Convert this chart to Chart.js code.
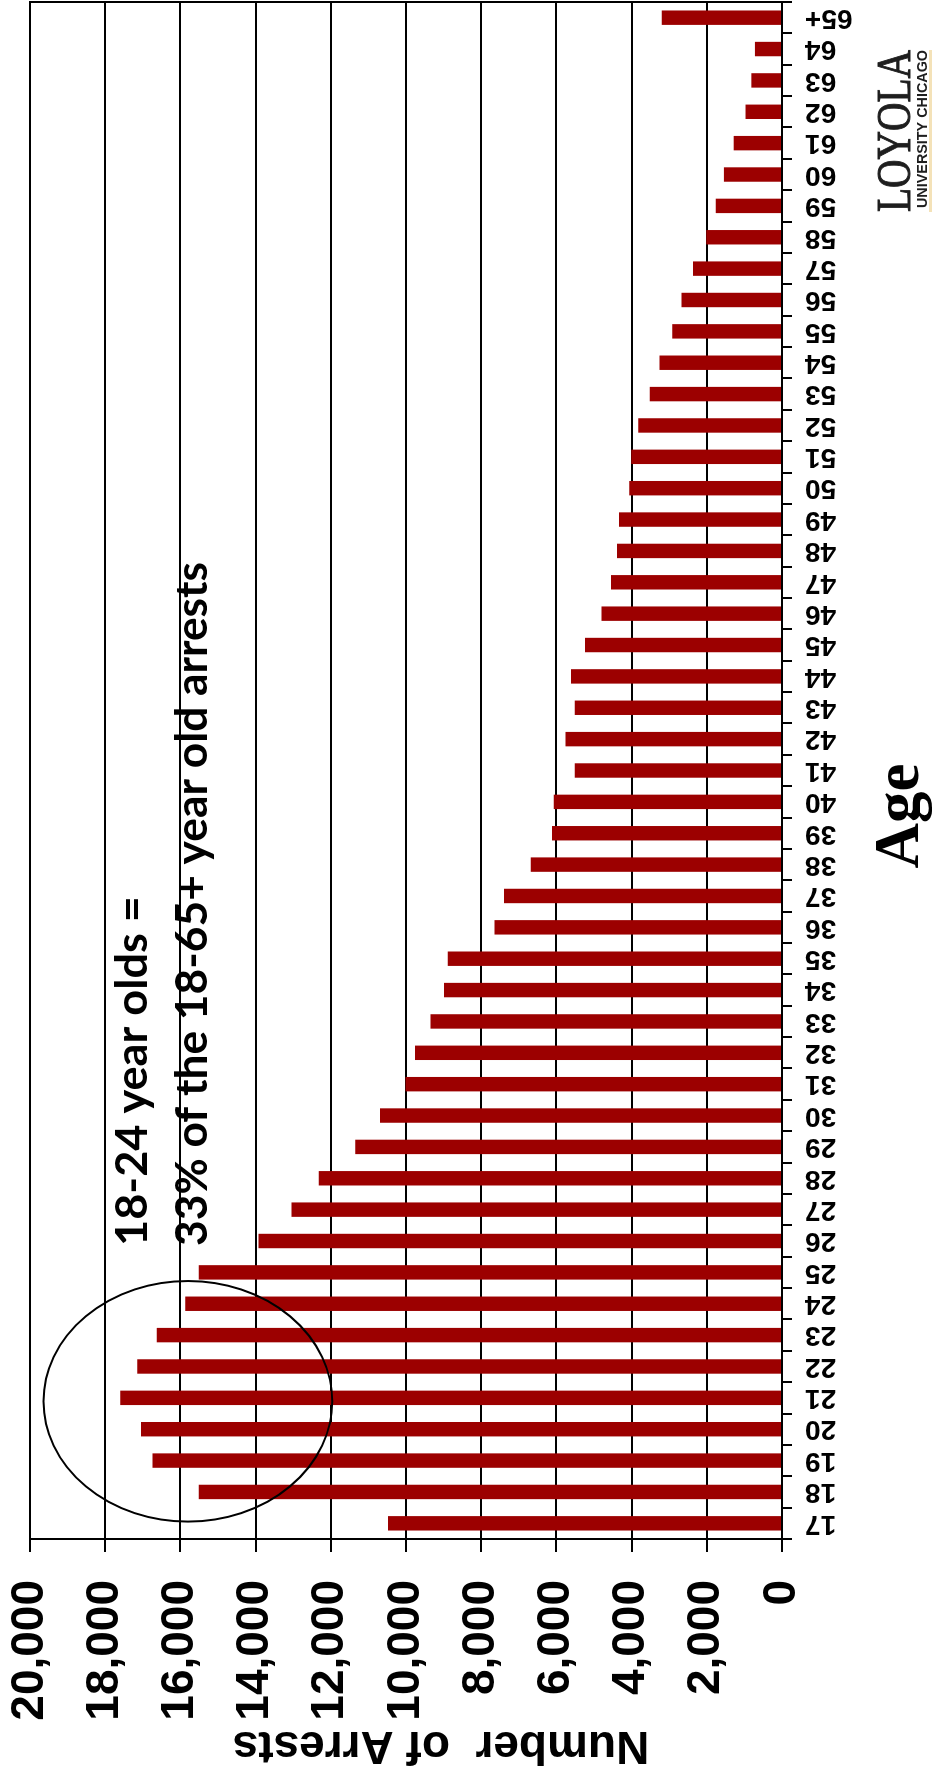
<!DOCTYPE html>
<html>
<head>
<meta charset="utf-8">
<script src="https://cdn.jsdelivr.net/npm/chart.js@4.4.1/dist/chart.umd.min.js"></script>
<style>
  html, body { margin: 0; padding: 0; background: #fff; overflow: hidden; }
  /* the chart is laid out landscape and turned a quarter turn counter-clockwise */
  #wrap {
    position: absolute; left: 0; top: 0;
    width: 1792px; height: 932px;
    transform-origin: 0 0;
    transform: translate(0, 1792px) rotate(-90deg);
  }
  canvas { display: block; }
</style>
</head>
<body>
<div id="wrap"><canvas id="chart" width="1792" height="932"></canvas></div>
<script>
// Arrests by age of arrestee
const ages = ['17','18','19','20','21','22','23','24','25','26','27','28','29','30',
  '31','32','33','34','35','36','37','38','39','40','41','42','43','44','45','46',
  '47','48','49','50','51','52','53','54','55','56','57','58','59','60','61','62',
  '63','64','65+'];
const arrests = [10480, 15510, 16745, 17045, 17600, 17145, 16630, 15870, 15510, 13920,
  13045, 12320, 11350, 10690, 10015, 9760, 9350, 8990, 8890, 7645,
  7395, 6680, 6120, 6070, 5510, 5760, 5510, 5610, 5240, 4800,
  4545, 4390, 4335, 4060, 4010, 3825, 3520, 3255, 2920, 2670,
  2370, 2015, 1760, 1545, 1285, 970, 815, 720, 3200];
const valueTicks = [0, 2000, 4000, 6000, 8000, 10000, 12000, 14000, 16000, 18000, 20000];
const noteLines = ['18-24 year olds =', '33% of the 18-65+ year old arrests'];
const valueTitle = 'Number  of Arrests';
const ageTitle = 'Age';
const logoName = 'LOYOLA';
const logoSub = 'UNIVERSITY CHICAGO';

const SANS = '"Liberation Sans", Arial, sans-serif';
const SERIF = '"Liberation Serif", "Times New Roman", serif';

// draws a line of text squeezed horizontally to a given width
function drawFitted(ctx, text, x, y, width, stroke) {
  const k = width / ctx.measureText(text).width;
  ctx.save();
  ctx.translate(x, y);
  ctx.scale(k, 1);
  ctx.textAlign = 'left';
  ctx.fillText(text, 0, 0);
  if (stroke) ctx.strokeText(text, 0, 0);
  ctx.restore();
}

const overlay = {
  id: 'overlay',
  afterDraw(chart) {
    const { ctx, chartArea: a, scales: { x, y } } = chart;
    ctx.save();
    ctx.fillStyle = '#000';
    ctx.strokeStyle = '#000';

    // plot frame
    ctx.lineWidth = 2;
    ctx.strokeRect(a.left, a.top, a.right - a.left, a.bottom - a.top);

    // ring around the 18-24 bars
    const cx = x.getPixelForValue(3.89);
    const rx = x.getPixelForValue(3.89 + 3.835) - cx;
    const cy = y.getPixelForValue(15800);
    const ry = y.getPixelForValue(15800 - 3840) - cy;
    ctx.beginPath();
    ctx.ellipse(cx, cy, Math.abs(rx), Math.abs(ry), 0, 0, Math.PI * 2);
    ctx.lineWidth = 2;
    ctx.stroke();

    // note
    ctx.font = 'bold 44px Lato, "Open Sans", sans-serif';
    ctx.textBaseline = 'alphabetic';
    drawFitted(ctx, noteLines[0], 546, 147, 350);
    drawFitted(ctx, noteLines[1], 546, 207, 684);

    // axis titles
    ctx.font = 'bold 63px ' + SERIF;
    ctx.textAlign = 'center';
    ctx.textBaseline = 'alphabetic';
    ctx.fillText(ageTitle, 976, 918);

    ctx.save();
    ctx.translate(47, 441);
    ctx.rotate(-Math.PI / 2);
    ctx.font = 'bold 46px ' + SANS;
    ctx.textAlign = 'center';
    ctx.textBaseline = 'middle';
    ctx.fillText(valueTitle, 0, 0);
    ctx.restore();

    // wordmark
    ctx.fillStyle = '#1e1e1e';
    ctx.strokeStyle = '#1e1e1e';
    ctx.lineWidth = 1;
    ctx.font = '48px ' + SERIF;
    ctx.textBaseline = 'alphabetic';
    drawFitted(ctx, logoName, 1580, 910, 162, true);
    ctx.font = 'bold 14px ' + SANS;
    drawFitted(ctx, logoSub, 1584, 927, 158, false);
    ctx.fillStyle = '#f4e2b8';
    ctx.fillRect(1580, 929, 162, 3);

    ctx.restore();
  }
};

new Chart(document.getElementById('chart'), {
  type: 'bar',
  data: {
    labels: ages,
    datasets: [{
      data: arrests,
      backgroundColor: '#9c0000',
      borderWidth: 0,
      barPercentage: 0.46,
      categoryPercentage: 1
    }]
  },
  options: {
    responsive: false,
    animation: false,
    devicePixelRatio: 1,
    layout: { padding: { top: 30, right: 2, left: 0, bottom: 0 } },
    plugins: { legend: { display: false }, tooltip: { enabled: false } },
    scales: {
      x: {
        grid: { offset: true, drawOnChartArea: false, drawTicks: true, tickLength: 10, color: '#000', lineWidth: 2 },
        border: { display: true, color: '#000', width: 2 },
        ticks: {
          autoSkip: false, maxRotation: 90, minRotation: 90, padding: 13,
          color: '#000', font: { family: SANS, size: 28, weight: 'bold' }
        },
        afterFit(s) { s.height = 150; s.paddingLeft = 0; s.paddingRight = 0; }
      },
      y: {
        min: 0, max: 20000,
        afterBuildTicks(s) { s.ticks = valueTicks.map(v => ({ value: v })); },
        grid: { color: '#000', lineWidth: 2, tickLength: 13 },
        border: { display: true, color: '#000', width: 2 },
        ticks: {
          padding: 28, color: '#000',
          font: { family: SANS, size: 46, weight: 'bold' },
          callback: v => v.toLocaleString('en-US')
        },
        afterFit(s) { s.width = 253; s.paddingTop = 0; s.paddingBottom = 0; }
      }
    }
  },
  plugins: [overlay]
});
</script>
</body>
</html>
